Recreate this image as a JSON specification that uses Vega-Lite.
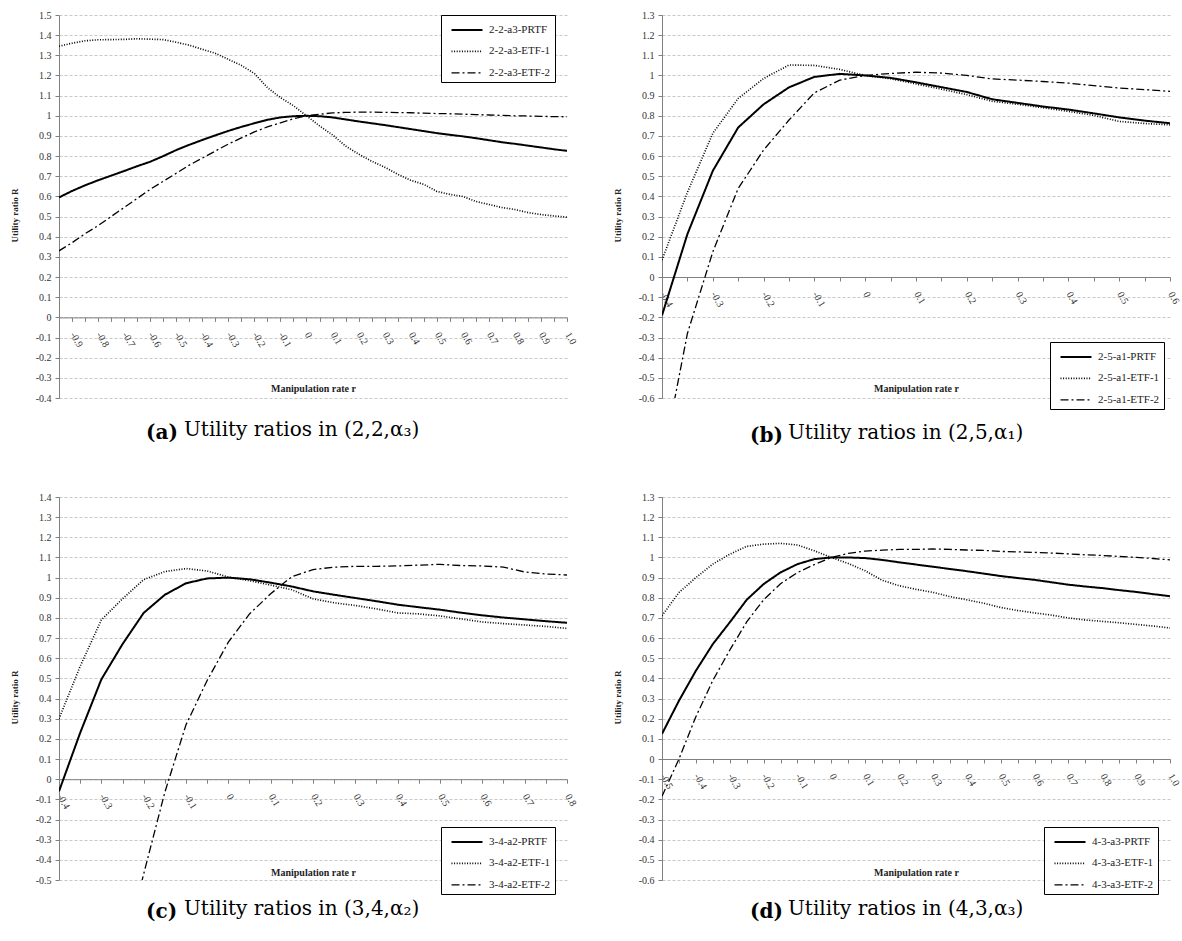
{
  "$schema": "https://vega.github.io/schema/vega-lite/v6.json",
  "background": "white",
  "padding": {"left": 10, "top": 10, "right": 5, "bottom": 0},
  "config": {
    "font": "Liberation Serif",
    "view": {"stroke": null},
    "axis": {"labelFont": "Liberation Serif", "titleFont": "Liberation Serif", "labelFontSize": 10, "labelColor": "#333", "titleColor": "#222", "domainColor": "#808080", "tickColor": "#808080", "tickSize": 4, "titleFontWeight": "bold", "titleFontSize": 9},
    "legend": {"labelFont": "Liberation Serif", "strokeColor": "#000", "fillColor": "#fff", "padding": 4, "symbolType": "M-0.45,0H2.65", "symbolSize": 400, "symbolStrokeWidth": 1.8, "symbolStrokeColor": "#000", "symbolFillColor": "transparent", "labelFontSize": 11, "labelColor": "#222", "labelOffset": 22, "rowPadding": 5.4, "orient": "none"},
    "title": {"font": "DejaVu Serif", "fontSize": 20, "fontWeight": "normal", "color": "#000", "orient": "bottom", "anchor": "start", "frame": "bounds"}
  },
  "datasets": {
    "a": [
      {"r": -0.95, "s": "2-2-a3-PRTF", "v": 0.595}, {"r": -0.9, "s": "2-2-a3-PRTF", "v": 0.627}, {"r": -0.85, "s": "2-2-a3-PRTF", "v": 0.655}, {"r": -0.8, "s": "2-2-a3-PRTF", "v": 0.68},
      {"r": -0.75, "s": "2-2-a3-PRTF", "v": 0.703}, {"r": -0.7, "s": "2-2-a3-PRTF", "v": 0.726}, {"r": -0.65, "s": "2-2-a3-PRTF", "v": 0.75}, {"r": -0.6, "s": "2-2-a3-PRTF", "v": 0.772},
      {"r": -0.55, "s": "2-2-a3-PRTF", "v": 0.8}, {"r": -0.5, "s": "2-2-a3-PRTF", "v": 0.83}, {"r": -0.45, "s": "2-2-a3-PRTF", "v": 0.856}, {"r": -0.4, "s": "2-2-a3-PRTF", "v": 0.88},
      {"r": -0.35, "s": "2-2-a3-PRTF", "v": 0.903}, {"r": -0.3, "s": "2-2-a3-PRTF", "v": 0.925}, {"r": -0.25, "s": "2-2-a3-PRTF", "v": 0.945}, {"r": -0.2, "s": "2-2-a3-PRTF", "v": 0.963},
      {"r": -0.15, "s": "2-2-a3-PRTF", "v": 0.98}, {"r": -0.1, "s": "2-2-a3-PRTF", "v": 0.992}, {"r": -0.05, "s": "2-2-a3-PRTF", "v": 0.998}, {"r": 0, "s": "2-2-a3-PRTF", "v": 1.0},
      {"r": 0.05, "s": "2-2-a3-PRTF", "v": 0.998}, {"r": 0.1, "s": "2-2-a3-PRTF", "v": 0.992}, {"r": 0.15, "s": "2-2-a3-PRTF", "v": 0.982}, {"r": 0.2, "s": "2-2-a3-PRTF", "v": 0.972},
      {"r": 0.25, "s": "2-2-a3-PRTF", "v": 0.963}, {"r": 0.3, "s": "2-2-a3-PRTF", "v": 0.954}, {"r": 0.35, "s": "2-2-a3-PRTF", "v": 0.944}, {"r": 0.4, "s": "2-2-a3-PRTF", "v": 0.934},
      {"r": 0.45, "s": "2-2-a3-PRTF", "v": 0.924}, {"r": 0.5, "s": "2-2-a3-PRTF", "v": 0.914}, {"r": 0.55, "s": "2-2-a3-PRTF", "v": 0.906}, {"r": 0.6, "s": "2-2-a3-PRTF", "v": 0.898},
      {"r": 0.65, "s": "2-2-a3-PRTF", "v": 0.889}, {"r": 0.7, "s": "2-2-a3-PRTF", "v": 0.879}, {"r": 0.75, "s": "2-2-a3-PRTF", "v": 0.869}, {"r": 0.8, "s": "2-2-a3-PRTF", "v": 0.861},
      {"r": 0.85, "s": "2-2-a3-PRTF", "v": 0.852}, {"r": 0.9, "s": "2-2-a3-PRTF", "v": 0.843}, {"r": 0.95, "s": "2-2-a3-PRTF", "v": 0.834}, {"r": 1.0, "s": "2-2-a3-PRTF", "v": 0.826},
      {"r": -0.95, "s": "2-2-a3-ETF-1", "v": 1.345}, {"r": -0.9, "s": "2-2-a3-ETF-1", "v": 1.36}, {"r": -0.85, "s": "2-2-a3-ETF-1", "v": 1.372}, {"r": -0.8, "s": "2-2-a3-ETF-1", "v": 1.377},
      {"r": -0.75, "s": "2-2-a3-ETF-1", "v": 1.378}, {"r": -0.7, "s": "2-2-a3-ETF-1", "v": 1.379}, {"r": -0.65, "s": "2-2-a3-ETF-1", "v": 1.382}, {"r": -0.6, "s": "2-2-a3-ETF-1", "v": 1.38},
      {"r": -0.55, "s": "2-2-a3-ETF-1", "v": 1.378}, {"r": -0.5, "s": "2-2-a3-ETF-1", "v": 1.365}, {"r": -0.45, "s": "2-2-a3-ETF-1", "v": 1.35}, {"r": -0.4, "s": "2-2-a3-ETF-1", "v": 1.33},
      {"r": -0.35, "s": "2-2-a3-ETF-1", "v": 1.31}, {"r": -0.3, "s": "2-2-a3-ETF-1", "v": 1.28}, {"r": -0.25, "s": "2-2-a3-ETF-1", "v": 1.25}, {"r": -0.2, "s": "2-2-a3-ETF-1", "v": 1.21},
      {"r": -0.15, "s": "2-2-a3-ETF-1", "v": 1.14}, {"r": -0.1, "s": "2-2-a3-ETF-1", "v": 1.09}, {"r": -0.05, "s": "2-2-a3-ETF-1", "v": 1.05}, {"r": 0, "s": "2-2-a3-ETF-1", "v": 1.0},
      {"r": 0.05, "s": "2-2-a3-ETF-1", "v": 0.95}, {"r": 0.1, "s": "2-2-a3-ETF-1", "v": 0.905}, {"r": 0.15, "s": "2-2-a3-ETF-1", "v": 0.85}, {"r": 0.2, "s": "2-2-a3-ETF-1", "v": 0.81},
      {"r": 0.25, "s": "2-2-a3-ETF-1", "v": 0.775}, {"r": 0.3, "s": "2-2-a3-ETF-1", "v": 0.745}, {"r": 0.35, "s": "2-2-a3-ETF-1", "v": 0.71}, {"r": 0.4, "s": "2-2-a3-ETF-1", "v": 0.68},
      {"r": 0.45, "s": "2-2-a3-ETF-1", "v": 0.66}, {"r": 0.5, "s": "2-2-a3-ETF-1", "v": 0.625}, {"r": 0.55, "s": "2-2-a3-ETF-1", "v": 0.61}, {"r": 0.6, "s": "2-2-a3-ETF-1", "v": 0.6},
      {"r": 0.65, "s": "2-2-a3-ETF-1", "v": 0.575}, {"r": 0.7, "s": "2-2-a3-ETF-1", "v": 0.56}, {"r": 0.75, "s": "2-2-a3-ETF-1", "v": 0.545}, {"r": 0.8, "s": "2-2-a3-ETF-1", "v": 0.535},
      {"r": 0.85, "s": "2-2-a3-ETF-1", "v": 0.52}, {"r": 0.9, "s": "2-2-a3-ETF-1", "v": 0.51}, {"r": 0.95, "s": "2-2-a3-ETF-1", "v": 0.503}, {"r": 1.0, "s": "2-2-a3-ETF-1", "v": 0.497},
      {"r": -0.95, "s": "2-2-a3-ETF-2", "v": 0.33}, {"r": -0.9, "s": "2-2-a3-ETF-2", "v": 0.37}, {"r": -0.85, "s": "2-2-a3-ETF-2", "v": 0.415}, {"r": -0.8, "s": "2-2-a3-ETF-2", "v": 0.455},
      {"r": -0.75, "s": "2-2-a3-ETF-2", "v": 0.5}, {"r": -0.7, "s": "2-2-a3-ETF-2", "v": 0.545}, {"r": -0.65, "s": "2-2-a3-ETF-2", "v": 0.59}, {"r": -0.6, "s": "2-2-a3-ETF-2", "v": 0.635},
      {"r": -0.55, "s": "2-2-a3-ETF-2", "v": 0.675}, {"r": -0.5, "s": "2-2-a3-ETF-2", "v": 0.715}, {"r": -0.45, "s": "2-2-a3-ETF-2", "v": 0.755}, {"r": -0.4, "s": "2-2-a3-ETF-2", "v": 0.79},
      {"r": -0.35, "s": "2-2-a3-ETF-2", "v": 0.825}, {"r": -0.3, "s": "2-2-a3-ETF-2", "v": 0.86}, {"r": -0.25, "s": "2-2-a3-ETF-2", "v": 0.89}, {"r": -0.2, "s": "2-2-a3-ETF-2", "v": 0.92},
      {"r": -0.15, "s": "2-2-a3-ETF-2", "v": 0.945}, {"r": -0.1, "s": "2-2-a3-ETF-2", "v": 0.965}, {"r": -0.05, "s": "2-2-a3-ETF-2", "v": 0.985}, {"r": 0, "s": "2-2-a3-ETF-2", "v": 1.0},
      {"r": 0.05, "s": "2-2-a3-ETF-2", "v": 1.008}, {"r": 0.1, "s": "2-2-a3-ETF-2", "v": 1.014}, {"r": 0.15, "s": "2-2-a3-ETF-2", "v": 1.017}, {"r": 0.2, "s": "2-2-a3-ETF-2", "v": 1.018},
      {"r": 0.25, "s": "2-2-a3-ETF-2", "v": 1.018}, {"r": 0.3, "s": "2-2-a3-ETF-2", "v": 1.017}, {"r": 0.35, "s": "2-2-a3-ETF-2", "v": 1.016}, {"r": 0.4, "s": "2-2-a3-ETF-2", "v": 1.015},
      {"r": 0.45, "s": "2-2-a3-ETF-2", "v": 1.013}, {"r": 0.5, "s": "2-2-a3-ETF-2", "v": 1.011}, {"r": 0.55, "s": "2-2-a3-ETF-2", "v": 1.01}, {"r": 0.6, "s": "2-2-a3-ETF-2", "v": 1.008},
      {"r": 0.65, "s": "2-2-a3-ETF-2", "v": 1.006}, {"r": 0.7, "s": "2-2-a3-ETF-2", "v": 1.004}, {"r": 0.75, "s": "2-2-a3-ETF-2", "v": 1.002}, {"r": 0.8, "s": "2-2-a3-ETF-2", "v": 1.0},
      {"r": 0.85, "s": "2-2-a3-ETF-2", "v": 0.999}, {"r": 0.9, "s": "2-2-a3-ETF-2", "v": 0.997}, {"r": 0.95, "s": "2-2-a3-ETF-2", "v": 0.996}, {"r": 1.0, "s": "2-2-a3-ETF-2", "v": 0.995}
    ],
    "b": [
      {"r": -0.4, "s": "2-5-a1-PRTF", "v": -0.19}, {"r": -0.35, "s": "2-5-a1-PRTF", "v": 0.213}, {"r": -0.3, "s": "2-5-a1-PRTF", "v": 0.527}, {"r": -0.25, "s": "2-5-a1-PRTF", "v": 0.742},
      {"r": -0.2, "s": "2-5-a1-PRTF", "v": 0.857}, {"r": -0.15, "s": "2-5-a1-PRTF", "v": 0.941}, {"r": -0.1, "s": "2-5-a1-PRTF", "v": 0.993}, {"r": -0.05, "s": "2-5-a1-PRTF", "v": 1.008},
      {"r": 0, "s": "2-5-a1-PRTF", "v": 1.0}, {"r": 0.05, "s": "2-5-a1-PRTF", "v": 0.988}, {"r": 0.1, "s": "2-5-a1-PRTF", "v": 0.966}, {"r": 0.15, "s": "2-5-a1-PRTF", "v": 0.942},
      {"r": 0.2, "s": "2-5-a1-PRTF", "v": 0.918}, {"r": 0.25, "s": "2-5-a1-PRTF", "v": 0.882}, {"r": 0.3, "s": "2-5-a1-PRTF", "v": 0.864}, {"r": 0.35, "s": "2-5-a1-PRTF", "v": 0.846},
      {"r": 0.4, "s": "2-5-a1-PRTF", "v": 0.831}, {"r": 0.45, "s": "2-5-a1-PRTF", "v": 0.812}, {"r": 0.5, "s": "2-5-a1-PRTF", "v": 0.792}, {"r": 0.55, "s": "2-5-a1-PRTF", "v": 0.776},
      {"r": 0.6, "s": "2-5-a1-PRTF", "v": 0.763},
      {"r": -0.4, "s": "2-5-a1-ETF-1", "v": 0.084}, {"r": -0.35, "s": "2-5-a1-ETF-1", "v": 0.42}, {"r": -0.3, "s": "2-5-a1-ETF-1", "v": 0.713}, {"r": -0.25, "s": "2-5-a1-ETF-1", "v": 0.886},
      {"r": -0.2, "s": "2-5-a1-ETF-1", "v": 0.985}, {"r": -0.15, "s": "2-5-a1-ETF-1", "v": 1.052}, {"r": -0.1, "s": "2-5-a1-ETF-1", "v": 1.05}, {"r": -0.05, "s": "2-5-a1-ETF-1", "v": 1.03},
      {"r": 0, "s": "2-5-a1-ETF-1", "v": 1.0}, {"r": 0.05, "s": "2-5-a1-ETF-1", "v": 0.984}, {"r": 0.1, "s": "2-5-a1-ETF-1", "v": 0.958}, {"r": 0.15, "s": "2-5-a1-ETF-1", "v": 0.932},
      {"r": 0.2, "s": "2-5-a1-ETF-1", "v": 0.905}, {"r": 0.25, "s": "2-5-a1-ETF-1", "v": 0.872}, {"r": 0.3, "s": "2-5-a1-ETF-1", "v": 0.857}, {"r": 0.35, "s": "2-5-a1-ETF-1", "v": 0.84},
      {"r": 0.4, "s": "2-5-a1-ETF-1", "v": 0.822}, {"r": 0.45, "s": "2-5-a1-ETF-1", "v": 0.802}, {"r": 0.5, "s": "2-5-a1-ETF-1", "v": 0.772}, {"r": 0.55, "s": "2-5-a1-ETF-1", "v": 0.762},
      {"r": 0.6, "s": "2-5-a1-ETF-1", "v": 0.755},
      {"r": -0.4, "s": "2-5-a1-ETF-2", "v": -0.93}, {"r": -0.35, "s": "2-5-a1-ETF-2", "v": -0.28}, {"r": -0.3, "s": "2-5-a1-ETF-2", "v": 0.125}, {"r": -0.25, "s": "2-5-a1-ETF-2", "v": 0.44},
      {"r": -0.2, "s": "2-5-a1-ETF-2", "v": 0.63}, {"r": -0.15, "s": "2-5-a1-ETF-2", "v": 0.779}, {"r": -0.1, "s": "2-5-a1-ETF-2", "v": 0.914}, {"r": -0.05, "s": "2-5-a1-ETF-2", "v": 0.977},
      {"r": 0, "s": "2-5-a1-ETF-2", "v": 1.0}, {"r": 0.05, "s": "2-5-a1-ETF-2", "v": 1.01}, {"r": 0.1, "s": "2-5-a1-ETF-2", "v": 1.016}, {"r": 0.15, "s": "2-5-a1-ETF-2", "v": 1.012},
      {"r": 0.2, "s": "2-5-a1-ETF-2", "v": 1.0}, {"r": 0.25, "s": "2-5-a1-ETF-2", "v": 0.983}, {"r": 0.3, "s": "2-5-a1-ETF-2", "v": 0.977}, {"r": 0.35, "s": "2-5-a1-ETF-2", "v": 0.97},
      {"r": 0.4, "s": "2-5-a1-ETF-2", "v": 0.962}, {"r": 0.45, "s": "2-5-a1-ETF-2", "v": 0.95}, {"r": 0.5, "s": "2-5-a1-ETF-2", "v": 0.938}, {"r": 0.55, "s": "2-5-a1-ETF-2", "v": 0.93},
      {"r": 0.6, "s": "2-5-a1-ETF-2", "v": 0.921}
    ],
    "c": [
      {"r": -0.4, "s": "3-4-a2-PRTF", "v": -0.06}, {"r": -0.35, "s": "3-4-a2-PRTF", "v": 0.23}, {"r": -0.3, "s": "3-4-a2-PRTF", "v": 0.495}, {"r": -0.25, "s": "3-4-a2-PRTF", "v": 0.67},
      {"r": -0.2, "s": "3-4-a2-PRTF", "v": 0.825}, {"r": -0.15, "s": "3-4-a2-PRTF", "v": 0.915}, {"r": -0.1, "s": "3-4-a2-PRTF", "v": 0.972}, {"r": -0.05, "s": "3-4-a2-PRTF", "v": 0.996},
      {"r": 0, "s": "3-4-a2-PRTF", "v": 1.0}, {"r": 0.05, "s": "3-4-a2-PRTF", "v": 0.992}, {"r": 0.1, "s": "3-4-a2-PRTF", "v": 0.975}, {"r": 0.15, "s": "3-4-a2-PRTF", "v": 0.956},
      {"r": 0.2, "s": "3-4-a2-PRTF", "v": 0.932}, {"r": 0.25, "s": "3-4-a2-PRTF", "v": 0.915}, {"r": 0.3, "s": "3-4-a2-PRTF", "v": 0.899}, {"r": 0.35, "s": "3-4-a2-PRTF", "v": 0.883},
      {"r": 0.4, "s": "3-4-a2-PRTF", "v": 0.866}, {"r": 0.45, "s": "3-4-a2-PRTF", "v": 0.853}, {"r": 0.5, "s": "3-4-a2-PRTF", "v": 0.841}, {"r": 0.55, "s": "3-4-a2-PRTF", "v": 0.826},
      {"r": 0.6, "s": "3-4-a2-PRTF", "v": 0.813}, {"r": 0.65, "s": "3-4-a2-PRTF", "v": 0.802}, {"r": 0.7, "s": "3-4-a2-PRTF", "v": 0.793}, {"r": 0.75, "s": "3-4-a2-PRTF", "v": 0.784},
      {"r": 0.8, "s": "3-4-a2-PRTF", "v": 0.776},
      {"r": -0.4, "s": "3-4-a2-ETF-1", "v": 0.3}, {"r": -0.35, "s": "3-4-a2-ETF-1", "v": 0.56}, {"r": -0.3, "s": "3-4-a2-ETF-1", "v": 0.79}, {"r": -0.25, "s": "3-4-a2-ETF-1", "v": 0.895},
      {"r": -0.2, "s": "3-4-a2-ETF-1", "v": 0.99}, {"r": -0.15, "s": "3-4-a2-ETF-1", "v": 1.03}, {"r": -0.1, "s": "3-4-a2-ETF-1", "v": 1.045}, {"r": -0.05, "s": "3-4-a2-ETF-1", "v": 1.033},
      {"r": 0, "s": "3-4-a2-ETF-1", "v": 1.003}, {"r": 0.05, "s": "3-4-a2-ETF-1", "v": 0.985}, {"r": 0.1, "s": "3-4-a2-ETF-1", "v": 0.963}, {"r": 0.15, "s": "3-4-a2-ETF-1", "v": 0.94},
      {"r": 0.2, "s": "3-4-a2-ETF-1", "v": 0.895}, {"r": 0.25, "s": "3-4-a2-ETF-1", "v": 0.875}, {"r": 0.3, "s": "3-4-a2-ETF-1", "v": 0.862}, {"r": 0.35, "s": "3-4-a2-ETF-1", "v": 0.845},
      {"r": 0.4, "s": "3-4-a2-ETF-1", "v": 0.825}, {"r": 0.45, "s": "3-4-a2-ETF-1", "v": 0.82}, {"r": 0.5, "s": "3-4-a2-ETF-1", "v": 0.81}, {"r": 0.55, "s": "3-4-a2-ETF-1", "v": 0.795},
      {"r": 0.6, "s": "3-4-a2-ETF-1", "v": 0.78}, {"r": 0.65, "s": "3-4-a2-ETF-1", "v": 0.772}, {"r": 0.7, "s": "3-4-a2-ETF-1", "v": 0.765}, {"r": 0.75, "s": "3-4-a2-ETF-1", "v": 0.758},
      {"r": 0.8, "s": "3-4-a2-ETF-1", "v": 0.748},
      {"r": -0.4, "s": "3-4-a2-ETF-2", "v": -2.3}, {"r": -0.35, "s": "3-4-a2-ETF-2", "v": -1.8}, {"r": -0.3, "s": "3-4-a2-ETF-2", "v": -1.35}, {"r": -0.25, "s": "3-4-a2-ETF-2", "v": -0.9},
      {"r": -0.2, "s": "3-4-a2-ETF-2", "v": -0.47}, {"r": -0.15, "s": "3-4-a2-ETF-2", "v": -0.065}, {"r": -0.1, "s": "3-4-a2-ETF-2", "v": 0.27}, {"r": -0.05, "s": "3-4-a2-ETF-2", "v": 0.49},
      {"r": 0, "s": "3-4-a2-ETF-2", "v": 0.68}, {"r": 0.05, "s": "3-4-a2-ETF-2", "v": 0.82}, {"r": 0.1, "s": "3-4-a2-ETF-2", "v": 0.92}, {"r": 0.15, "s": "3-4-a2-ETF-2", "v": 1.005},
      {"r": 0.2, "s": "3-4-a2-ETF-2", "v": 1.04}, {"r": 0.25, "s": "3-4-a2-ETF-2", "v": 1.052}, {"r": 0.3, "s": "3-4-a2-ETF-2", "v": 1.056}, {"r": 0.35, "s": "3-4-a2-ETF-2", "v": 1.056},
      {"r": 0.4, "s": "3-4-a2-ETF-2", "v": 1.058}, {"r": 0.45, "s": "3-4-a2-ETF-2", "v": 1.062}, {"r": 0.5, "s": "3-4-a2-ETF-2", "v": 1.066}, {"r": 0.55, "s": "3-4-a2-ETF-2", "v": 1.06},
      {"r": 0.6, "s": "3-4-a2-ETF-2", "v": 1.058}, {"r": 0.65, "s": "3-4-a2-ETF-2", "v": 1.052}, {"r": 0.7, "s": "3-4-a2-ETF-2", "v": 1.028}, {"r": 0.75, "s": "3-4-a2-ETF-2", "v": 1.018},
      {"r": 0.8, "s": "3-4-a2-ETF-2", "v": 1.013}
    ],
    "d": [
      {"r": -0.5, "s": "4-3-a3-PRTF", "v": 0.125}, {"r": -0.45, "s": "4-3-a3-PRTF", "v": 0.289}, {"r": -0.4, "s": "4-3-a3-PRTF", "v": 0.438}, {"r": -0.35, "s": "4-3-a3-PRTF", "v": 0.57},
      {"r": -0.3, "s": "4-3-a3-PRTF", "v": 0.678}, {"r": -0.25, "s": "4-3-a3-PRTF", "v": 0.79}, {"r": -0.2, "s": "4-3-a3-PRTF", "v": 0.868}, {"r": -0.15, "s": "4-3-a3-PRTF", "v": 0.926},
      {"r": -0.1, "s": "4-3-a3-PRTF", "v": 0.967}, {"r": -0.05, "s": "4-3-a3-PRTF", "v": 0.992}, {"r": 0, "s": "4-3-a3-PRTF", "v": 1.0}, {"r": 0.05, "s": "4-3-a3-PRTF", "v": 1.0},
      {"r": 0.1, "s": "4-3-a3-PRTF", "v": 0.997}, {"r": 0.15, "s": "4-3-a3-PRTF", "v": 0.988}, {"r": 0.2, "s": "4-3-a3-PRTF", "v": 0.976}, {"r": 0.25, "s": "4-3-a3-PRTF", "v": 0.965},
      {"r": 0.3, "s": "4-3-a3-PRTF", "v": 0.954}, {"r": 0.35, "s": "4-3-a3-PRTF", "v": 0.943}, {"r": 0.4, "s": "4-3-a3-PRTF", "v": 0.932}, {"r": 0.45, "s": "4-3-a3-PRTF", "v": 0.92},
      {"r": 0.5, "s": "4-3-a3-PRTF", "v": 0.908}, {"r": 0.55, "s": "4-3-a3-PRTF", "v": 0.898}, {"r": 0.6, "s": "4-3-a3-PRTF", "v": 0.889}, {"r": 0.65, "s": "4-3-a3-PRTF", "v": 0.877},
      {"r": 0.7, "s": "4-3-a3-PRTF", "v": 0.865}, {"r": 0.75, "s": "4-3-a3-PRTF", "v": 0.856}, {"r": 0.8, "s": "4-3-a3-PRTF", "v": 0.848}, {"r": 0.85, "s": "4-3-a3-PRTF", "v": 0.838},
      {"r": 0.9, "s": "4-3-a3-PRTF", "v": 0.829}, {"r": 0.95, "s": "4-3-a3-PRTF", "v": 0.818}, {"r": 1.0, "s": "4-3-a3-PRTF", "v": 0.808},
      {"r": -0.5, "s": "4-3-a3-ETF-1", "v": 0.711}, {"r": -0.45, "s": "4-3-a3-ETF-1", "v": 0.826}, {"r": -0.4, "s": "4-3-a3-ETF-1", "v": 0.9}, {"r": -0.35, "s": "4-3-a3-ETF-1", "v": 0.967},
      {"r": -0.3, "s": "4-3-a3-ETF-1", "v": 1.016}, {"r": -0.25, "s": "4-3-a3-ETF-1", "v": 1.055}, {"r": -0.2, "s": "4-3-a3-ETF-1", "v": 1.066}, {"r": -0.15, "s": "4-3-a3-ETF-1", "v": 1.07},
      {"r": -0.1, "s": "4-3-a3-ETF-1", "v": 1.062}, {"r": -0.05, "s": "4-3-a3-ETF-1", "v": 1.033}, {"r": 0, "s": "4-3-a3-ETF-1", "v": 1.0}, {"r": 0.05, "s": "4-3-a3-ETF-1", "v": 0.97},
      {"r": 0.1, "s": "4-3-a3-ETF-1", "v": 0.934}, {"r": 0.15, "s": "4-3-a3-ETF-1", "v": 0.887}, {"r": 0.2, "s": "4-3-a3-ETF-1", "v": 0.86}, {"r": 0.25, "s": "4-3-a3-ETF-1", "v": 0.842},
      {"r": 0.3, "s": "4-3-a3-ETF-1", "v": 0.827}, {"r": 0.35, "s": "4-3-a3-ETF-1", "v": 0.806}, {"r": 0.4, "s": "4-3-a3-ETF-1", "v": 0.79}, {"r": 0.45, "s": "4-3-a3-ETF-1", "v": 0.773},
      {"r": 0.5, "s": "4-3-a3-ETF-1", "v": 0.752}, {"r": 0.55, "s": "4-3-a3-ETF-1", "v": 0.737}, {"r": 0.6, "s": "4-3-a3-ETF-1", "v": 0.725}, {"r": 0.65, "s": "4-3-a3-ETF-1", "v": 0.714},
      {"r": 0.7, "s": "4-3-a3-ETF-1", "v": 0.7}, {"r": 0.75, "s": "4-3-a3-ETF-1", "v": 0.69}, {"r": 0.8, "s": "4-3-a3-ETF-1", "v": 0.683}, {"r": 0.85, "s": "4-3-a3-ETF-1", "v": 0.676},
      {"r": 0.9, "s": "4-3-a3-ETF-1", "v": 0.668}, {"r": 0.95, "s": "4-3-a3-ETF-1", "v": 0.66}, {"r": 1.0, "s": "4-3-a3-ETF-1", "v": 0.65},
      {"r": -0.5, "s": "4-3-a3-ETF-2", "v": -0.185}, {"r": -0.45, "s": "4-3-a3-ETF-2", "v": 0.0}, {"r": -0.4, "s": "4-3-a3-ETF-2", "v": 0.21}, {"r": -0.35, "s": "4-3-a3-ETF-2", "v": 0.39},
      {"r": -0.3, "s": "4-3-a3-ETF-2", "v": 0.54}, {"r": -0.25, "s": "4-3-a3-ETF-2", "v": 0.68}, {"r": -0.2, "s": "4-3-a3-ETF-2", "v": 0.79}, {"r": -0.15, "s": "4-3-a3-ETF-2", "v": 0.87},
      {"r": -0.1, "s": "4-3-a3-ETF-2", "v": 0.925}, {"r": -0.05, "s": "4-3-a3-ETF-2", "v": 0.965}, {"r": 0, "s": "4-3-a3-ETF-2", "v": 1.0}, {"r": 0.05, "s": "4-3-a3-ETF-2", "v": 1.02},
      {"r": 0.1, "s": "4-3-a3-ETF-2", "v": 1.032}, {"r": 0.15, "s": "4-3-a3-ETF-2", "v": 1.036}, {"r": 0.2, "s": "4-3-a3-ETF-2", "v": 1.04}, {"r": 0.25, "s": "4-3-a3-ETF-2", "v": 1.04},
      {"r": 0.3, "s": "4-3-a3-ETF-2", "v": 1.042}, {"r": 0.35, "s": "4-3-a3-ETF-2", "v": 1.04}, {"r": 0.4, "s": "4-3-a3-ETF-2", "v": 1.037}, {"r": 0.45, "s": "4-3-a3-ETF-2", "v": 1.035},
      {"r": 0.5, "s": "4-3-a3-ETF-2", "v": 1.03}, {"r": 0.55, "s": "4-3-a3-ETF-2", "v": 1.028}, {"r": 0.6, "s": "4-3-a3-ETF-2", "v": 1.025}, {"r": 0.65, "s": "4-3-a3-ETF-2", "v": 1.022},
      {"r": 0.7, "s": "4-3-a3-ETF-2", "v": 1.018}, {"r": 0.75, "s": "4-3-a3-ETF-2", "v": 1.013}, {"r": 0.8, "s": "4-3-a3-ETF-2", "v": 1.01}, {"r": 0.85, "s": "4-3-a3-ETF-2", "v": 1.005},
      {"r": 0.9, "s": "4-3-a3-ETF-2", "v": 1.0}, {"r": 0.95, "s": "4-3-a3-ETF-2", "v": 0.995}, {"r": 1.0, "s": "4-3-a3-ETF-2", "v": 0.988}
    ]
  },
  "vconcat": [
    {
      "hconcat": [
        {
          "title": {"text": "Utility ratios in (2,2,α₃)", "dx": 174, "offset": -23},
          "vconcat": [
            {
              "width": 508, "height": 383,
              "data": {"name": "a"},
              "title": {"text": "(a)", "fontWeight": "bold", "dx": 136, "offset": 20},
              "mark": {"type": "line", "clip": true, "color": "#000"},
              "encoding": {
                "x": {"field": "r", "type": "quantitative", "scale": {"domain": [-0.95, 1.0], "nice": false, "zero": false},
                  "axis": {"offset": -80.6, "values": [-0.95,-0.9,-0.85,-0.8,-0.75,-0.7,-0.65,-0.6,-0.55,-0.5,-0.45,-0.4,-0.35,-0.3,-0.25,-0.2,-0.15,-0.1,-0.05,0,0.05,0.1,0.15,0.2,0.25,0.3,0.35,0.4,0.45,0.5,0.55,0.6,0.65,0.7,0.75,0.8,0.85,0.9,0.95,1.0],
                    "labelExpr": "round(datum.value*20) % 2 != 0 ? '' : (datum.value < -0.001 ? '-' : '') + (abs(datum.value) < 0.001 ? '0' : format(abs(datum.value), '.1f'))",
                    "labelAngle": 60, "labelAlign": "left", "labelBaseline": "middle", "labelPadding": 11, "labelOverlap": false, "labelBound": false, "grid": false,
                    "title": "Manipulation rate  r", "titleY": 70.6, "titleBaseline": "middle", "titleFontSize": 10}},
                "y": {"field": "v", "type": "quantitative", "scale": {"domain": [-0.4, 1.5], "nice": false, "zero": false},
                  "axis": {"values": [-0.4,-0.3,-0.2,-0.1,0,0.1,0.2,0.3,0.4,0.5,0.6,0.7,0.8,0.9,1,1.1,1.2,1.3,1.4,1.5],
                    "labelExpr": "(datum.value < -0.001 ? '-' : '') + (abs(round(datum.value*10)) % 10 == 0 ? format(abs(round(datum.value)), 'd') : format(abs(datum.value), '.1f'))",
                    "labelOverlap": false, "grid": true, "gridDash": [3, 2], "gridColor": "#c8c8c8", "labelPadding": 4,
                    "title": "Utility ratio R", "titleX": -45, "titleY": 200, "titleAngle": -90, "titleAlign": "center", "titleBaseline": "middle"}},
                "strokeDash": {"field": "s", "type": "nominal", "scale": {"domain": ["2-2-a3-PRTF", "2-2-a3-ETF-1", "2-2-a3-ETF-2"], "range": [[1, 0], [1, 1.6], [8, 3, 2, 3]]},
                  "legend": {"title": null, "legendX": 382, "legendY": 0}},
                "strokeWidth": {"field": "s", "type": "ordinal", "scale": {"domain": ["2-2-a3-PRTF", "2-2-a3-ETF-1", "2-2-a3-ETF-2"], "range": [2, 1.3, 2]}, "legend": null}
              }
            }
          ],
          "resolve": {"scale": {"strokeDash": "independent", "strokeWidth": "independent"}, "legend": {"strokeDash": "independent"}}
        },
        {
          "title": {"text": "Utility ratios in (2,5,α₁)", "dx": 175, "offset": -23},
          "vconcat": [
            {
              "width": 508, "height": 383,
              "data": {"name": "b"},
              "title": {"text": "(b)", "fontWeight": "bold", "dx": 137, "offset": 16},
              "mark": {"type": "line", "clip": true, "color": "#000"},
              "encoding": {
                "x": {"field": "r", "type": "quantitative", "scale": {"domain": [-0.4, 0.6], "nice": false, "zero": false},
                  "axis": {"offset": -121, "values": [-0.4,-0.35,-0.3,-0.25,-0.2,-0.15,-0.1,-0.05,0,0.05,0.1,0.15,0.2,0.25,0.3,0.35,0.4,0.45,0.5,0.55,0.6],
                    "labelExpr": "round(datum.value*20) % 2 != 0 ? '' : (datum.value < -0.001 ? '-' : '') + (abs(datum.value) < 0.001 ? '0' : format(abs(datum.value), '.1f'))",
                    "labelAngle": 60, "labelAlign": "left", "labelBaseline": "middle", "labelPadding": 11, "labelOverlap": false, "labelBound": false, "grid": false,
                    "title": "Manipulation rate  r", "titleY": 111, "titleBaseline": "middle", "titleFontSize": 10}},
                "y": {"field": "v", "type": "quantitative", "scale": {"domain": [-0.6, 1.3], "nice": false, "zero": false},
                  "axis": {"values": [-0.6,-0.5,-0.4,-0.3,-0.2,-0.1,0,0.1,0.2,0.3,0.4,0.5,0.6,0.7,0.8,0.9,1,1.1,1.2,1.3],
                    "labelExpr": "(datum.value < -0.001 ? '-' : '') + (abs(round(datum.value*10)) % 10 == 0 ? format(abs(round(datum.value)), 'd') : format(abs(datum.value), '.1f'))",
                    "labelOverlap": false, "grid": true, "gridDash": [3, 2], "gridColor": "#c8c8c8", "labelPadding": 4,
                    "title": "Utility ratio R", "titleX": -45, "titleY": 200, "titleAngle": -90, "titleAlign": "center", "titleBaseline": "middle"}},
                "strokeDash": {"field": "s", "type": "nominal", "scale": {"domain": ["2-5-a1-PRTF", "2-5-a1-ETF-1", "2-5-a1-ETF-2"], "range": [[1, 0], [1, 1.6], [8, 3, 2, 3]]},
                  "legend": {"title": null, "legendX": 388, "legendY": 327}},
                "strokeWidth": {"field": "s", "type": "ordinal", "scale": {"domain": ["2-5-a1-PRTF", "2-5-a1-ETF-1", "2-5-a1-ETF-2"], "range": [2, 1.3, 2]}, "legend": null}
              }
            }
          ],
          "resolve": {"scale": {"strokeDash": "independent", "strokeWidth": "independent"}, "legend": {"strokeDash": "independent"}}
        }
      ],
      "spacing": 35,
      "resolve": {"scale": {"strokeDash": "independent", "strokeWidth": "independent"}, "legend": {"strokeDash": "independent"}}
    },
    {
      "hconcat": [
        {
          "title": {"text": "Utility ratios in (3,4,α₂)", "dx": 174, "offset": -23},
          "vconcat": [
            {
              "width": 508, "height": 383,
              "data": {"name": "c"},
              "title": {"text": "(c)", "fontWeight": "bold", "dx": 136, "offset": 7},
              "mark": {"type": "line", "clip": true, "color": "#000"},
              "encoding": {
                "x": {"field": "r", "type": "quantitative", "scale": {"domain": [-0.4, 0.8], "nice": false, "zero": false},
                  "axis": {"offset": -100.8, "values": [-0.4,-0.35,-0.3,-0.25,-0.2,-0.15,-0.1,-0.05,0,0.05,0.1,0.15,0.2,0.25,0.3,0.35,0.4,0.45,0.5,0.55,0.6,0.65,0.7,0.75,0.8],
                    "labelExpr": "round(datum.value*20) % 2 != 0 ? '' : (datum.value < -0.001 ? '-' : '') + (abs(datum.value) < 0.001 ? '0' : format(abs(datum.value), '.1f'))",
                    "labelAngle": 60, "labelAlign": "left", "labelBaseline": "middle", "labelPadding": 11, "labelOverlap": false, "labelBound": false, "grid": false,
                    "title": "Manipulation rate  r", "titleY": 92.8, "titleBaseline": "middle", "titleFontSize": 10}},
                "y": {"field": "v", "type": "quantitative", "scale": {"domain": [-0.5, 1.4], "nice": false, "zero": false},
                  "axis": {"values": [-0.5,-0.4,-0.3,-0.2,-0.1,0,0.1,0.2,0.3,0.4,0.5,0.6,0.7,0.8,0.9,1,1.1,1.2,1.3,1.4],
                    "labelExpr": "(datum.value < -0.001 ? '-' : '') + (abs(round(datum.value*10)) % 10 == 0 ? format(abs(round(datum.value)), 'd') : format(abs(datum.value), '.1f'))",
                    "labelOverlap": false, "grid": true, "gridDash": [3, 2], "gridColor": "#c8c8c8", "labelPadding": 4,
                    "title": "Utility ratio R", "titleX": -45, "titleY": 200, "titleAngle": -90, "titleAlign": "center", "titleBaseline": "middle"}},
                "strokeDash": {"field": "s", "type": "nominal", "scale": {"domain": ["3-4-a2-PRTF", "3-4-a2-ETF-1", "3-4-a2-ETF-2"], "range": [[1, 0], [1, 1.6], [8, 3, 2, 3]]},
                  "legend": {"title": null, "legendX": 382, "legendY": 330}},
                "strokeWidth": {"field": "s", "type": "ordinal", "scale": {"domain": ["3-4-a2-PRTF", "3-4-a2-ETF-1", "3-4-a2-ETF-2"], "range": [2, 1.3, 2]}, "legend": null}
              }
            }
          ],
          "resolve": {"scale": {"strokeDash": "independent", "strokeWidth": "independent"}, "legend": {"strokeDash": "independent"}}
        },
        {
          "title": {"text": "Utility ratios in (4,3,α₃)", "dx": 175, "offset": -23},
          "vconcat": [
            {
              "width": 508, "height": 383,
              "data": {"name": "d"},
              "title": {"text": "(d)", "fontWeight": "bold", "dx": 137, "offset": 7},
              "mark": {"type": "line", "clip": true, "color": "#000"},
              "encoding": {
                "x": {"field": "r", "type": "quantitative", "scale": {"domain": [-0.5, 1.0], "nice": false, "zero": false},
                  "axis": {"offset": -121, "values": [-0.5,-0.45,-0.4,-0.35,-0.3,-0.25,-0.2,-0.15,-0.1,-0.05,0,0.05,0.1,0.15,0.2,0.25,0.3,0.35,0.4,0.45,0.5,0.55,0.6,0.65,0.7,0.75,0.8,0.85,0.9,0.95,1.0],
                    "labelExpr": "round(datum.value*20) % 2 != 0 ? '' : (datum.value < -0.001 ? '-' : '') + (abs(datum.value) < 0.001 ? '0' : format(abs(datum.value), '.1f'))",
                    "labelAngle": 60, "labelAlign": "left", "labelBaseline": "middle", "labelPadding": 11, "labelOverlap": false, "labelBound": false, "grid": false,
                    "title": "Manipulation rate  r", "titleY": 113, "titleBaseline": "middle", "titleFontSize": 10}},
                "y": {"field": "v", "type": "quantitative", "scale": {"domain": [-0.6, 1.3], "nice": false, "zero": false},
                  "axis": {"values": [-0.6,-0.5,-0.4,-0.3,-0.2,-0.1,0,0.1,0.2,0.3,0.4,0.5,0.6,0.7,0.8,0.9,1,1.1,1.2,1.3],
                    "labelExpr": "(datum.value < -0.001 ? '-' : '') + (abs(round(datum.value*10)) % 10 == 0 ? format(abs(round(datum.value)), 'd') : format(abs(datum.value), '.1f'))",
                    "labelOverlap": false, "grid": true, "gridDash": [3, 2], "gridColor": "#c8c8c8", "labelPadding": 4,
                    "title": "Utility ratio R", "titleX": -45, "titleY": 200, "titleAngle": -90, "titleAlign": "center", "titleBaseline": "middle"}},
                "strokeDash": {"field": "s", "type": "nominal", "scale": {"domain": ["4-3-a3-PRTF", "4-3-a3-ETF-1", "4-3-a3-ETF-2"], "range": [[1, 0], [1, 1.6], [8, 3, 2, 3]]},
                  "legend": {"title": null, "legendX": 382, "legendY": 330}},
                "strokeWidth": {"field": "s", "type": "ordinal", "scale": {"domain": ["4-3-a3-PRTF", "4-3-a3-ETF-1", "4-3-a3-ETF-2"], "range": [2, 1.3, 2]}, "legend": null}
              }
            }
          ],
          "resolve": {"scale": {"strokeDash": "independent", "strokeWidth": "independent"}, "legend": {"strokeDash": "independent"}}
        }
      ],
      "spacing": 35,
      "resolve": {"scale": {"strokeDash": "independent", "strokeWidth": "independent"}, "legend": {"strokeDash": "independent"}}
    }
  ],
  "spacing": 46,
  "resolve": {"scale": {"strokeDash": "independent", "strokeWidth": "independent"}, "legend": {"strokeDash": "independent"}}
}
